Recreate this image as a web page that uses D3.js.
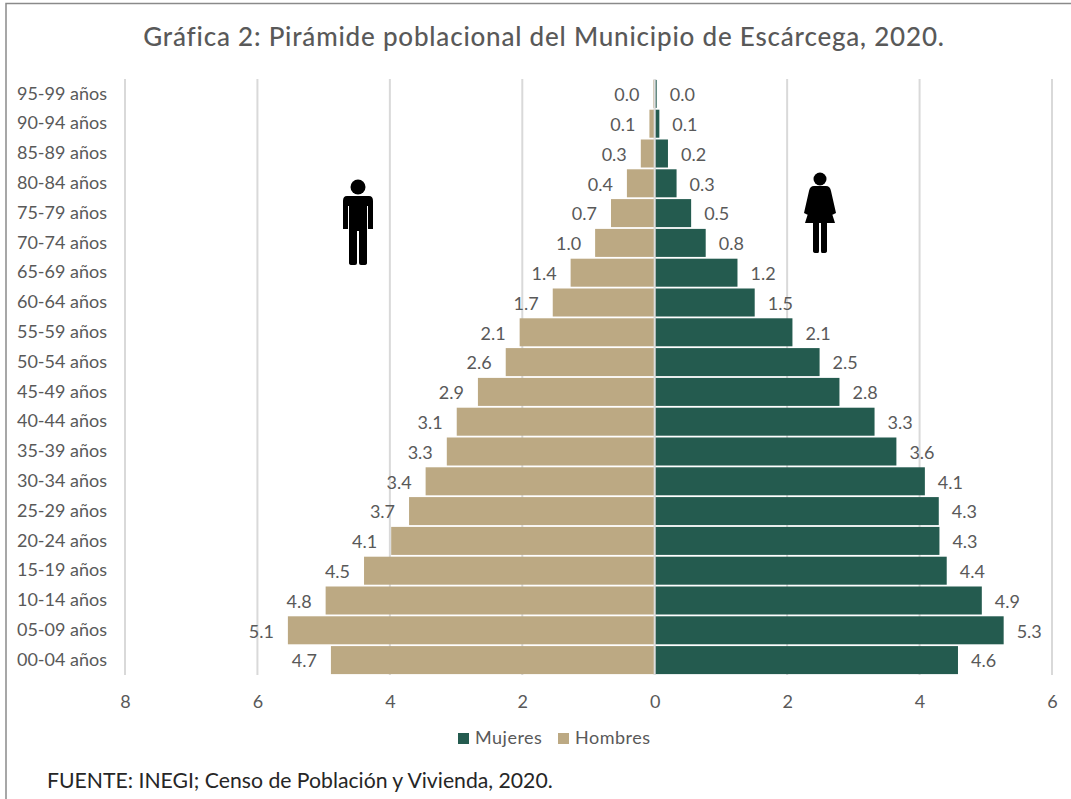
<!DOCTYPE html>
<html>
<head>
<meta charset="utf-8">
<script src="https://cdn.jsdelivr.net/npm/d3@7"></script>
<style>
  html, body { margin: 0; padding: 0; background: #fff; overflow: hidden; }
  text { font-family: Lato, sans-serif; }
</style>
</head>
<body>
<svg id="chart" width="1071" height="799"></svg>
<script>
// age groups, top of the pyramid first
var ageGroups = ["95-99 años","90-94 años","85-89 años","80-84 años","75-79 años","70-74 años","65-69 años",
  "60-64 años","55-59 años","50-54 años","45-49 años","40-44 años","35-39 años","30-34 años","25-29 años",
  "20-24 años","15-19 años","10-14 años","05-09 años","00-04 años"];

// bar lengths
var hombres = [0.02,0.08,0.21,0.42,0.66,0.9,1.27,1.54,2.04,2.25,2.67,2.99,3.14,3.46,3.71,3.98,4.39,4.97,5.54,4.89];
var mujeres = [0.03,0.07,0.2,0.33,0.55,0.77,1.25,1.51,2.08,2.49,2.79,3.32,3.65,4.08,4.29,4.3,4.41,4.94,5.27,4.58];

// the printed labels do not always agree with the bars, so they are kept apart
var hombresLabels = ["0.0","0.1","0.3","0.4","0.7","1.0","1.4","1.7","2.1","2.6","2.9","3.1","3.3","3.4","3.7","4.1","4.5","4.8","5.1","4.7"];
var mujeresLabels = ["0.0","0.1","0.2","0.3","0.5","0.8","1.2","1.5","2.1","2.5","2.8","3.3","3.6","4.1","4.3","4.3","4.4","4.9","5.3","4.6"];

var xTicks = [-8,-6,-4,-2,0,2,4,6];
var seriesNames = ["Mujeres","Hombres"];

var colorMujeres = "#245b4f";
var colorHombres = "#bca983";
var textGrey = "#595959";

var svg = d3.select("#chart");

var x = d3.scaleLinear().domain([-8,6]).range([125,1052]);
var y = d3.scaleBand().domain(ageGroups).range([79,675]).paddingInner(0.06).paddingOuter(0.03);

// outer frame, only top and left are visible in the picture
svg.append("path").attr("d","M6,799V3.5H1071").attr("fill","none").attr("stroke","#8a8a8a").attr("stroke-width",1.5);

svg.append("text").attr("x",544).attr("y",46).attr("text-anchor","middle")
  .attr("font-size",26).attr("fill",textGrey).attr("font-weight",500).style("letter-spacing","0.8px")
  .text("Gráfica 2: Pirámide poblacional del Municipio de Escárcega, 2020.");

// gridlines
svg.selectAll("line.grid").data(xTicks).enter().append("line").attr("class","grid")
  .attr("x1",function(d){return x(d);}).attr("x2",function(d){return x(d);})
  .attr("y1",79).attr("y2",675).attr("stroke","#d9d9d9").attr("stroke-width",2);

svg.selectAll("rect.hombres").data(hombres).enter().append("rect").attr("class","hombres")
  .attr("x",function(d){return x(-d);})
  .attr("y",function(d,i){return y(ageGroups[i]);})
  .attr("width",function(d){return x(0)-x(-d);})
  .attr("height",y.bandwidth()).attr("fill",colorHombres);

svg.selectAll("rect.mujeres").data(mujeres).enter().append("rect").attr("class","mujeres")
  .attr("x",x(0))
  .attr("y",function(d,i){return y(ageGroups[i]);})
  .attr("width",function(d){return x(d)-x(0);})
  .attr("height",y.bandwidth()).attr("fill",colorMujeres);

// the centre line runs over the bars
svg.append("line").attr("x1",x(0)).attr("x2",x(0)).attr("y1",79).attr("y2",675)
  .attr("stroke","#dedede").attr("stroke-width",2);

// value labels
svg.selectAll("text.lblH").data(hombres).enter().append("text").attr("class","lblH")
  .attr("x",function(d){return x(-d)-14;})
  .attr("y",function(d,i){return y(ageGroups[i])+y.bandwidth()/2+1;})
  .attr("dy","0.35em").attr("text-anchor","end").attr("font-size",18).attr("fill",textGrey)
  .text(function(d,i){return hombresLabels[i];});

svg.selectAll("text.lblM").data(mujeres).enter().append("text").attr("class","lblM")
  .attr("x",function(d){return x(d)+13;})
  .attr("y",function(d,i){return y(ageGroups[i])+y.bandwidth()/2+1;})
  .attr("dy","0.35em").attr("text-anchor","start").attr("font-size",18).attr("fill",textGrey)
  .text(function(d,i){return mujeresLabels[i];});

// category labels
var yAxis = d3.axisLeft(y).tickSize(0).tickPadding(0);
var yG = svg.append("g").attr("transform","translate(107,0)").call(yAxis);
yG.select(".domain").remove();
yG.selectAll("text").attr("font-size",18).attr("fill",textGrey).style("font-family","Lato, sans-serif");

// bottom tick labels, negative side is the men
var xAxis = d3.axisBottom(x).tickValues(xTicks).tickSize(0).tickPadding(0).tickFormat(function(d){return Math.abs(d);});
var xG = svg.append("g").attr("transform","translate(0,695)").call(xAxis);
xG.select(".domain").remove();
xG.selectAll("text").attr("font-size",18).attr("fill",textGrey).style("font-family","Lato, sans-serif");

// legend
var legendX = [458,558];
var legendColors = [colorMujeres,colorHombres];
var legend = svg.selectAll("g.legend").data(seriesNames).enter().append("g").attr("class","legend")
  .attr("transform",function(d,i){return "translate("+legendX[i]+",733)";});
legend.append("rect").attr("width",11).attr("height",11).attr("fill",function(d,i){return legendColors[i];});
legend.append("text").attr("x",17).attr("y",11).attr("font-size",18).attr("fill",textGrey)
  .style("letter-spacing","0.5px").text(function(d){return d;});

svg.append("text").attr("x",47).attr("y",788).attr("font-size",21.2).attr("fill","#262626")
  .text("FUENTE: INEGI; Censo de Población y Vivienda, 2020.");

// pictograms
function man(g){
  g.append("circle").attr("cx",0).attr("cy",-35).attr("r",7.5);
  g.append("path").attr("d","M-11,-26H11Q15,-26 15,-21V7H10V-16H9V41Q9,43 6,43H3Q1,43 1,41V9H-1V41Q-1,43 -3,43H-6Q-9,43 -9,41V-16H-10V7H-15V-21Q-15,-26 -11,-26Z");
}
function woman(g){
  g.append("circle").attr("cx",0).attr("cy",-34).attr("r",6.5);
  g.append("path").attr("d","M-6,-27H6Q10,-27 11,-22L16,0L12,2L8,-12L15,10H7V38Q7,40 4,40H2Q1,40 1,38V10H-1V38Q-1,40 -2,40H-4Q-7,40 -7,38V10H-15L-8,-12L-12,2L-16,0L-11,-22Q-10,-27 -6,-27Z");
}
man(svg.append("g").attr("transform","translate(358,222)"));
woman(svg.append("g").attr("transform","translate(820,213)"));
</script>
</body>
</html>
